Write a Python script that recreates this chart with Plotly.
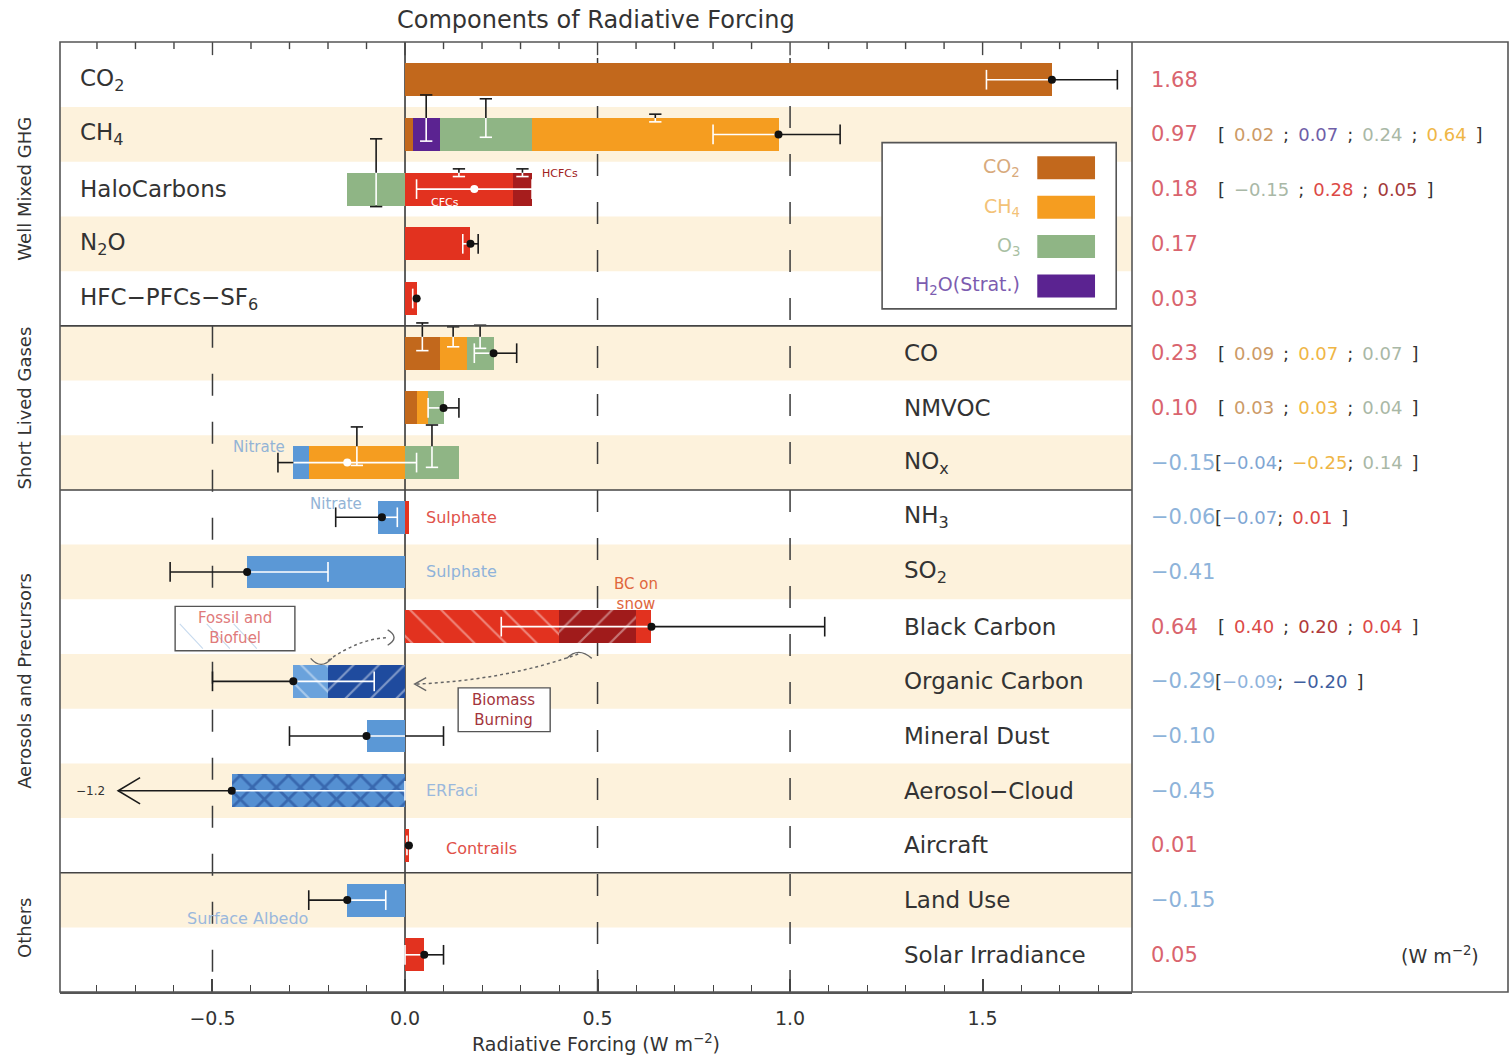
import plotly.graph_objects as go

# ---------------- data ----------------
row_labels = [
    "CO<sub>2</sub>", "CH<sub>4</sub>", "HaloCarbons", "N<sub>2</sub>O", "HFC−PFCs−SF<sub>6</sub>",
    "CO", "NMVOC", "NO<sub>x</sub>",
    "NH<sub>3</sub>", "SO<sub>2</sub>", "Black Carbon", "Organic Carbon", "Mineral Dust",
    "Aerosol−Cloud", "Aircraft",
    "Land Use", "Solar Irradiance",
]
label_left = [True] * 5 + [False] * 12

group_names = ["Well Mixed GHG", "Short Lived Gases", "Aerosols and Precursors", "Others"]
group_first = [0, 5, 8, 15]
group_last = [4, 7, 14, 16]

totals = [1.68, 0.97, 0.18, 0.17, 0.03, 0.23, 0.10, -0.15, -0.06, -0.41, 0.64, -0.29,
          -0.10, -0.45, 0.01, -0.15, 0.05]
err_lo = [1.51, 0.80, 0.03, 0.15, 0.02, 0.18, 0.06, -0.33, -0.18, -0.61, 0.25, -0.50,
          -0.30, -1.20, 0.005, -0.25, 0.00]
err_hi = [1.85, 1.13, 0.33, 0.19, 0.04, 0.29, 0.14, 0.03, -0.02, -0.20, 1.09, -0.08,
          0.10, 0.00, 0.02, -0.05, 0.10]

# components, listed in the order they are quoted in brackets
comp_row = [0, 1, 1, 1, 1, 2, 2, 2, 3, 4, 5, 5, 5, 6, 6, 6, 7, 7, 7, 8, 8, 9,
            10, 10, 10, 11, 11, 12, 13, 14, 15, 16]
comp_kind = ["co2", "co2", "h2o", "o3", "ch4", "o3", "red", "darkred", "red", "red",
             "co2", "ch4", "o3", "co2", "ch4", "o3", "blue", "ch4", "o3", "blue", "red", "blue",
             "bc_ff", "bc_bb", "red", "oc_ff", "oc_bb", "blue", "aci", "red", "blue", "red"]
comp_val = [1.68, 0.02, 0.07, 0.24, 0.64, -0.15, 0.28, 0.05, 0.17, 0.03,
            0.09, 0.07, 0.07, 0.03, 0.03, 0.04, -0.04, -0.25, 0.14, -0.07, 0.01, -0.41,
            0.40, 0.20, 0.04, -0.09, -0.20, -0.10, -0.45, 0.01, -0.15, 0.05]
# stacking rank away from zero within a row (0 = next to the axis)
comp_stack = [0, 0, 1, 2, 3, 0, 0, 1, 0, 0, 0, 1, 2, 0, 1, 2, 1, 0, 0, 0, 0, 0,
              0, 1, 2, 1, 0, 0, 0, 0, 0, 0]
# half-range of the per-component uncertainty markers (W m-2), 0 = none
comp_unc = [0, 0, 0.06, 0.05, 0.01, 0.088, 0.01, 0.01, 0, 0,
            0.036, 0.026, 0.03, 0, 0, 0, 0, 0.05, 0.055, 0, 0, 0,
            0, 0, 0, 0, 0, 0, 0, 0, 0, 0]
bracket_rows = [1, 2, 5, 6, 7, 8, 10, 11]

legend_kinds = ["co2", "ch4", "o3", "h2o"]
legend_labels = ["CO<sub>2</sub>", "CH<sub>4</sub>", "O<sub>3</sub>", "H<sub>2</sub>O(Strat.)"]

# ---------------- styles ----------------
FONT = "DejaVu Sans"
INK = "#333333"
BEIGE = "#fdf2dc"
fill = {
    "co2": "#c2681c", "ch4": "#f59d20", "o3": "#8fb585", "h2o": "#5b2391",
    "red": "#e2321f", "darkred": "#a61d1d", "blue": "#5b98d6",
    "bc_ff": "#e2321f", "bc_bb": "#a01b1b", "oc_ff": "#6aa2dc", "oc_bb": "#1f4b9e",
    "aci": "#5590d2",
}
pattern = {
    "bc_ff": dict(shape="\\", fgcolor="rgba(255,255,255,0.8)", size=22, solidity=0.1, fillmode="overlay"),
    "bc_bb": dict(shape="/", fgcolor="rgba(255,255,255,0.8)", size=22, solidity=0.1, fillmode="overlay"),
    "oc_ff": dict(shape="\\", fgcolor="rgba(255,255,255,0.85)", size=18, solidity=0.12, fillmode="overlay"),
    "oc_bb": dict(shape="/", fgcolor="rgba(255,255,255,0.85)", size=18, solidity=0.12, fillmode="overlay"),
    "aci": dict(shape="x", fgcolor="#1c3f8c", size=17, solidity=0.3, fillmode="overlay"),
}
text_col = {
    "co2": "#cc9a66", "ch4": "#efb646", "o3": "#a9b8a6", "h2o": "#6f5fa8",
    "red": "#dc4a46", "darkred": "#a33a3a", "blue": "#7fa6d3",
    "bc_ff": "#dc4a46", "bc_bb": "#b03a3a", "oc_ff": "#8fb3dc", "oc_bb": "#3f5f9f",
}
legend_text_col = {"co2": "#d8aa7c", "ch4": "#f3c277", "o3": "#a9bfa3", "h2o": "#7c5cb0"}
POS_COL = "#d9646e"
NEG_COL = "#8db3da"

X_MIN, X_MAX = -0.896, 1.888
Y_TOP, Y_BOT = -0.69, 16.68
DIV = (1132 - 60) / 1448          # split between plot and value panel (paper units)
BAR_W = 0.6
CAP = 0.18
ROWS_PER_UNIT = 7.04              # vertical extent of component markers per W m-2
CAP_HALF = 0.016
ARROW_X = -0.745                  # where off-scale error bars are cut with an arrow
EPS = 0.012
MAJOR_STEP, MINOR_STEP = 0.5, 0.1
MAJOR_LEN, MINOR_LEN = 0.24, 0.13  # top tick lengths in row units

n_rows = len(row_labels)

# ---------------- stacking ----------------
starts = [0.0] * len(comp_val)
pos_end = [0.0] * n_rows
neg_end = [0.0] * n_rows
for i in sorted(range(len(comp_val)), key=lambda k: (comp_row[k], comp_stack[k])):
    r, v = comp_row[i], comp_val[i]
    if v >= 0:
        starts[i] = pos_end[r]
        pos_end[r] += v
    else:
        starts[i] = neg_end[r]
        neg_end[r] += v

fig = go.Figure()

for i, (r, k, v) in enumerate(zip(comp_row, comp_kind, comp_val)):
    marker = dict(color=fill[k], line=dict(width=0))
    if k in pattern:
        marker["pattern"] = pattern[k]
    fig.add_trace(go.Bar(
        y=[r], x=[v], base=[starts[i]], orientation="h", width=BAR_W,
        marker=marker, showlegend=False, hoverinfo="skip",
    ))

# ---------------- error bars ----------------
black_x, black_y, white_x, white_y = [], [], [], []


def seg(color, xs, ys):
    tx, ty = (black_x, black_y) if color == "k" else (white_x, white_y)
    tx.extend(list(xs) + [None])
    ty.extend(list(ys) + [None])


arrow_rows = []
for r in range(n_rows):
    lo, hi = err_lo[r], err_hi[r]
    in_lo, in_hi = neg_end[r], pos_end[r]
    lo_d = max(lo, ARROW_X)
    if lo_d < in_lo - 1e-9:
        seg("k", [lo_d, min(hi, in_lo)], [r, r])
    a, b = max(lo_d, in_lo), min(hi, in_hi)
    if b > a:
        seg("w", [a, b], [r, r])
    if hi > in_hi + 1e-9:
        seg("k", [max(lo_d, in_hi), hi], [r, r])
    if lo < ARROW_X:
        arrow_rows.append(r)
        seg("k", [ARROW_X + 0.057, ARROW_X, ARROW_X + 0.057], [r - 0.24, r, r + 0.24])
    else:
        seg("k" if lo < in_lo - EPS else "w", [lo, lo], [r - CAP, r + CAP])
    seg("k" if hi > in_hi + EPS else "w", [hi, hi], [r - CAP, r + CAP])

# component uncertainty markers, centred on the upper edge of the bar
for i, u in enumerate(comp_unc):
    if u <= 0:
        continue
    r = comp_row[i]
    xm = starts[i] + comp_val[i] / 2
    top_edge, bot_edge = r - BAR_W / 2, r + BAR_W / 2
    half = u * ROWS_PER_UNIT
    y0, y1 = top_edge - half, top_edge + half
    seg("k", [xm, xm], [y0, top_edge])
    seg("w", [xm, xm], [top_edge, min(y1, bot_edge)])
    if y1 > bot_edge:
        seg("k", [xm, xm], [bot_edge, y1])
    seg("k", [xm - CAP_HALF, xm + CAP_HALF], [y0, y0])
    seg("k" if y1 > bot_edge else "w", [xm - CAP_HALF, xm + CAP_HALF], [y1, y1])

fig.add_trace(go.Scatter(x=white_x, y=white_y, mode="lines", line=dict(color="white", width=1.6),
                         showlegend=False, hoverinfo="skip"))
fig.add_trace(go.Scatter(x=black_x, y=black_y, mode="lines", line=dict(color="#1a1a1a", width=1.6),
                         showlegend=False, hoverinfo="skip"))

dot_col = []
for r in range(n_rows):
    t = totals[r]
    inside = (neg_end[r] + EPS < t < pos_end[r] - EPS)
    dot_col.append("white" if inside else "#111111")
fig.add_trace(go.Scatter(x=totals, y=list(range(n_rows)), mode="markers",
                         marker=dict(color=dot_col, size=8, line=dict(width=0)),
                         showlegend=False, hoverinfo="skip"))

# tick marks along the top edge, mirroring the bottom axis
tx, ty = [], []
k0, k1 = int(X_MIN / MINOR_STEP), int(X_MAX / MINOR_STEP)
for k in range(k0, k1 + 1):
    xv = k * MINOR_STEP
    major = abs(xv / MAJOR_STEP - round(xv / MAJOR_STEP)) < 1e-6
    tx += [xv, xv, None]
    ty += [Y_TOP, Y_TOP + (MAJOR_LEN if major else MINOR_LEN), None]
fig.add_trace(go.Scatter(x=tx, y=ty, mode="lines", line=dict(color="#444444", width=1.4),
                         cliponaxis=False, showlegend=False, hoverinfo="skip"))

# ---------------- background shapes ----------------
shapes = []
for r in range(1, n_rows, 2):
    shapes.append(dict(type="rect", xref="x domain", yref="y", x0=0, x1=1, y0=r - 0.5, y1=r + 0.5,
                       fillcolor=BEIGE, line=dict(width=0), layer="below"))
dash_line = dict(color="#3a3a3a", width=1.5, dash="22px,26px")
# the −0.5 guide is left out of the well-mixed GHG block, where the labels sit
shapes.append(dict(type="line", xref="x", yref="y", x0=-0.5, x1=-0.5,
                   y0=group_first[1] - 0.5, y1=Y_BOT, line=dash_line, layer="below"))
for xv in (0.5, 1.0):
    shapes.append(dict(type="line", xref="x", yref="paper", x0=xv, x1=xv, y0=0, y1=1,
                       line=dash_line, layer="below"))
shapes.append(dict(type="line", xref="x", yref="paper", x0=0, x1=0, y0=0, y1=1,
                   line=dict(color="#3a3a3a", width=1.6), layer="below"))
for g in range(1, len(group_first)):
    yb = group_first[g] - 0.5
    shapes.append(dict(type="line", xref="paper", yref="y", x0=0, x1=DIV, y0=yb, y1=yb,
                       line=dict(color="#444444", width=1.6)))
shapes.append(dict(type="rect", xref="paper", yref="paper", x0=0, x1=1, y0=0, y1=1,
                   line=dict(color="#555555", width=1.6)))
shapes.append(dict(type="line", xref="paper", yref="paper", x0=DIV, x1=DIV, y0=0, y1=1,
                   line=dict(color="#555555", width=1.6)))

# legend box
LEG_X0, LEG_X1, LEG_Y0, LEG_Y1 = 1.239, 1.847, 1.15, 4.19
LEG_FIRST, LEG_STEP = 1.61, 0.72
SW_X0, SW_X1, SW_H = 1.642, 1.792, 0.42
shapes.append(dict(type="rect", xref="x", yref="y", x0=LEG_X0, x1=LEG_X1, y0=LEG_Y0, y1=LEG_Y1,
                   fillcolor="white", line=dict(color="#555555", width=1.6)))
annotations = []
for j, (k, lab) in enumerate(zip(legend_kinds, legend_labels)):
    yc = LEG_FIRST + j * LEG_STEP
    shapes.append(dict(type="rect", xref="x", yref="y", x0=SW_X0, x1=SW_X1,
                       y0=yc - SW_H / 2, y1=yc + SW_H / 2, fillcolor=fill[k], line=dict(width=0)))
    annotations.append(dict(x=SW_X0 - 0.04, y=yc, xref="x", yref="y", text=lab, showarrow=False,
                            xanchor="right", yanchor="middle",
                            font=dict(family=FONT, size=19, color=legend_text_col[k])))

# source boxes and dotted connectors in the aerosol section
shapes.append(dict(type="rect", xref="x", yref="y", x0=-0.597, x1=-0.286, y0=9.63, y1=10.44,
                   fillcolor="white", line=dict(color="#555555", width=1.4)))
for d in (-0.585, -0.515, -0.445):
    shapes.append(dict(type="line", xref="x", yref="y", x0=d, x1=d + 0.06, y0=9.95, y1=10.4,
                       line=dict(color="#c7daee", width=1.1)))
shapes.append(dict(type="rect", xref="x", yref="y", x0=0.138, x1=0.377, y0=11.12, y1=11.92,
                   fillcolor="white", line=dict(color="#555555", width=1.4)))
dotted = dict(color="#666666", width=1.5, dash="dot")
shapes.append(dict(type="path", xref="x", yref="y", path="M -0.20,10.62 Q -0.12,10.22 -0.045,10.2",
                   line=dotted))
shapes.append(dict(type="path", xref="x", yref="y", path="M 0.03,11.05 Q 0.26,10.98 0.45,10.5",
                   line=dotted))
mark = dict(color="#666666", width=1.4)
shapes.append(dict(type="path", xref="x", yref="y", path="M -0.245,10.58 Q -0.218,10.8 -0.19,10.58",
                   line=mark))
shapes.append(dict(type="path", xref="x", yref="y", path="M -0.045,10.06 Q -0.012,10.2 -0.045,10.34",
                   line=mark))
shapes.append(dict(type="path", xref="x", yref="y", path="M 0.055,10.93 L 0.025,11.05 L 0.055,11.17",
                   line=mark))
shapes.append(dict(type="path", xref="x", yref="y", path="M 0.42,10.58 Q 0.45,10.36 0.485,10.58",
                   line=mark))


# ---------------- text ----------------
def num(v):
    s = f"{abs(v):.2f}"
    return ("−" + s) if v < 0 else s


def colored(txt, color):
    return f"<span style='color:{color}'>{txt}</span>"


SP = "\u2002"  # en space, keeps the bracketed breakdown as wide as the printed one

for r, lab in enumerate(row_labels):
    annotations.append(dict(
        x=0.0124 if label_left[r] else 0.5815, y=r, xref="paper", yref="y", text=lab,
        showarrow=False, xanchor="left", yanchor="middle",
        font=dict(family=FONT, size=23, color=INK)))

NUM_X = (1149 - 60) / 1448
BR_POS_X = (1216 - 60) / 1448
BR_NEG_X = (1213 - 60) / 1448
for r in range(n_rows):
    t = totals[r]
    annotations.append(dict(x=NUM_X, y=r, xref="paper", yref="y", text=num(t), showarrow=False,
                            xanchor="left", yanchor="middle",
                            font=dict(family=FONT, size=21, color=POS_COL if t >= 0 else NEG_COL)))
    if r in bracket_rows:
        parts = [colored(num(comp_val[i]), text_col[comp_kind[i]])
                 for i in range(len(comp_val)) if comp_row[i] == r]
        if t >= 0:
            body = "[" + SP + (SP + ";" + SP).join(parts) + SP + "]"
        else:
            body = "[" + (";" + SP).join(parts) + SP + "]"
        annotations.append(dict(x=BR_POS_X if t >= 0 else BR_NEG_X, y=r, xref="paper", yref="y",
                                text=body, showarrow=False, xanchor="left", yanchor="middle",
                                font=dict(family=FONT, size=18, color=INK)))

annotations.append(dict(x=(1440 - 60) / 1448, y=n_rows - 1, xref="paper", yref="y",
                        text="(W m<sup>−2</sup>)", showarrow=False, xanchor="center",
                        font=dict(family=FONT, size=19, color=INK)))

for g, name in enumerate(group_names):
    annotations.append(dict(x=-0.0245, y=(group_first[g] + group_last[g]) / 2, xref="paper", yref="y",
                            text=name, textangle=-90, showarrow=False, xanchor="center",
                            yanchor="middle", font=dict(family=FONT, size=18, color=INK)))

annotations.append(dict(x=(596 - 60) / 1448, y=1 + 22 / 950, xref="paper", yref="paper",
                        text="Components of Radiative Forcing", showarrow=False,
                        font=dict(family=FONT, size=24, color=INK), yanchor="middle"))
annotations.append(dict(x=(596 - 60) / 1448, y=-51 / 950, xref="paper", yref="paper",
                        text="Radiative Forcing (W m<sup>−2</sup>)", showarrow=False,
                        font=dict(family=FONT, size=19, color=INK), yanchor="middle"))

small = [
    ("Nitrate", -0.38, 6.72, "center", "#93b4d6", 15),
    ("Nitrate", -0.18, 7.75, "center", "#93b4d6", 15),
    ("Sulphate", 0.05, 8.0, "left", "#e0524a", 16),
    ("Sulphate", 0.05, 9.0, "left", "#8fb3da", 16),
    ("BC on<br>snow", 0.60, 9.4, "center", "#e0663c", 15),
    ("ERFaci", 0.05, 13.0, "left", "#9ab8dc", 16),
    ("Contrails", 0.10, 14.05, "left", "#e05048", 16),
    ("Surface Albedo", -0.41, 15.33, "center", "#9ab8dc", 16),
    ("HCFCs", 0.35, 1.71, "left", "#a02020", 11),
    ("CFCs", 0.105, 2.25, "center", "#ffffff", 11),
    ("Fossil and<br>Biofuel", -0.441, 10.03, "center", "#e07a7a", 15),
    ("Biomass<br>Burning", 0.257, 11.52, "center", "#a3343c", 15),
]
for txt, xv, yv, anc, col, sz in small:
    annotations.append(dict(x=xv, y=yv, xref="x", yref="y", text=txt, showarrow=False,
                            xanchor=anc, yanchor="middle",
                            font=dict(family=FONT, size=sz, color=col)))
for r in arrow_rows:
    annotations.append(dict(x=ARROW_X - 0.03, y=r, xref="x", yref="y",
                            text=f"{err_lo[r]:.1f}".replace("-", "−"), showarrow=False,
                            xanchor="right", yanchor="middle",
                            font=dict(family=FONT, size=12, color=INK)))

fig.update_layout(
    width=1511, height=1057,
    margin=dict(l=60, r=3, t=42, b=65),
    paper_bgcolor="white", plot_bgcolor="white",
    barmode="overlay", bargap=0,
    showlegend=False,
    shapes=shapes, annotations=annotations,
    xaxis=dict(domain=[0, DIV], range=[X_MIN, X_MAX], tickformat=".1f",
               tick0=0, dtick=MAJOR_STEP, ticks="inside", ticklen=13, tickwidth=1.5,
               tickcolor="#444444",
               minor=dict(dtick=MINOR_STEP, tick0=0, ticks="inside", ticklen=7, tickwidth=1.3,
                          tickcolor="#444444"),
               showgrid=False, zeroline=False,
               showline=True, linecolor="#555555", linewidth=1.6,
               ticklabelstandoff=8, tickfont=dict(family=FONT, size=19, color=INK)),
    yaxis=dict(range=[Y_BOT, Y_TOP], showticklabels=False, ticks="", showgrid=False,
               zeroline=False, showline=False),
)

fig.write_html("out.html")
